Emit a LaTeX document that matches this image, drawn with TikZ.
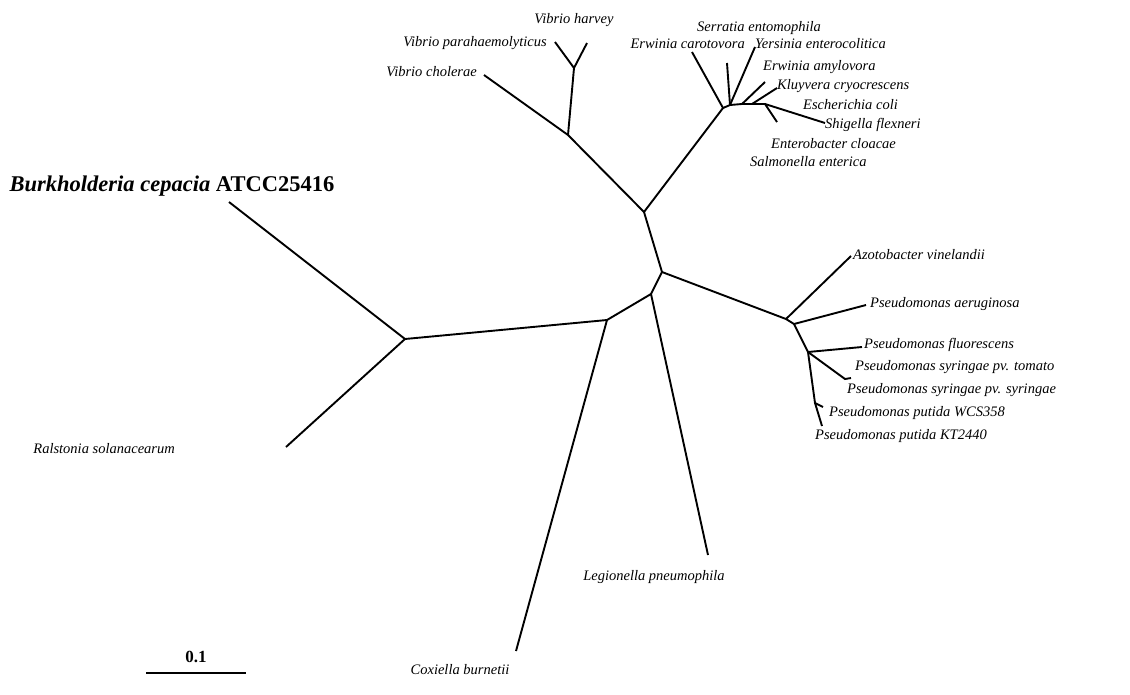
\documentclass[tikz,border=0pt]{standalone}
\usepackage{fontspec}
\setmainfont{Liberation Serif}

\begin{document}
\begin{tikzpicture}[x=1pt,y=-1pt,
  branch/.style={black, line width=1.9pt},
  taxon/.style={font=\fontsize{14.5}{16}\selectfont\itshape, inner sep=0pt}]
\useasboundingbox (0,0) rectangle (1130,694);

% inner nodes
\coordinate (nR) at (405,339);
\coordinate (nD) at (607,320);
\coordinate (nC) at (651,294);
\coordinate (nB) at (662,272);
\coordinate (nA) at (644,212);
\coordinate (nV) at (568,135);
\coordinate (nVf) at (574,68);
\coordinate (nE) at (723,108);
\coordinate (nE2) at (730,105);
\coordinate (nE4) at (742,104);
\coordinate (nE5) at (752,104);
\coordinate (nE6) at (765,104);
\coordinate (nP) at (786,319);
\coordinate (nP2) at (794,324);
\coordinate (nP3) at (808,352);
\coordinate (nP4) at (815,403);
\coordinate (nPs) at (845,379);

% tips
\coordinate (tBurk) at (229,202);
\coordinate (tRal) at (286,447);
\coordinate (tCox) at (516,651);
\coordinate (tLeg) at (708,555);
\coordinate (tVch) at (484,75);
\coordinate (tVpa) at (555,42);
\coordinate (tVha) at (587,43);
\coordinate (tEca) at (692,52);
\coordinate (tSer) at (727,63);
\coordinate (tYer) at (755,47);
\coordinate (tEam) at (765,82);
\coordinate (tKlu) at (777,88);
\coordinate (tShi) at (825,123);
\coordinate (tEco) at (777,122);
\coordinate (tAzo) at (851,256);
\coordinate (tPae) at (866,305);
\coordinate (tPfl) at (862,347);
\coordinate (tPst) at (851,378);
\coordinate (tPwc) at (823,407);
\coordinate (tPpu) at (822,426);

% branches
\draw[branch] (tBurk) -- (nR) -- (tRal);
\draw[branch] (nR) -- (nD) -- (tCox);
\draw[branch] (nD) -- (nC) -- (tLeg);
\draw[branch] (nC) -- (nB) -- (nA);
\draw[branch] (nA) -- (nV) -- (tVch);
\draw[branch] (nV) -- (nVf);
\draw[branch] (tVpa) -- (nVf) -- (tVha);
\draw[branch] (nA) -- (nE) -- (tEca);
\draw[branch] (nE) -- (nE2) -- (nE4) -- (nE5) -- (nE6) -- (tShi);
\draw[branch] (nE2) -- (tSer);
\draw[branch] (nE2) -- (tYer);
\draw[branch] (nE4) -- (tEam);
\draw[branch] (nE5) -- (tKlu);
\draw[branch] (nE6) -- (tEco);
\draw[branch] (nB) -- (nP) -- (tAzo);
\draw[branch] (nP) -- (nP2) -- (tPae);
\draw[branch] (nP2) -- (nP3) -- (tPfl);
\draw[branch] (nP3) -- (nPs) -- (tPst);
\draw[branch] (nP3) -- (nP4) -- (tPpu);
\draw[branch] (nP4) -- (tPwc);

% labels
\node[taxon] (burk) at (172,186) {\fontsize{22.5}{24}\selectfont\bfseries Burkholderia cepacia \upshape ATCC25416};
\node[taxon, anchor=east] (ral) at (175,449) {Ralstonia solanacearum};
\node[taxon] (cox) at (460,670) {Coxiella burnetii};
\node[taxon] (leg) at (654,577) {Legionella pneumophila};
\node[taxon, anchor=east] (vch) at (477,72) {Vibrio cholerae};
\node[taxon, anchor=east] (vpa) at (547,43) {Vibrio parahaemolyticus};
\node[taxon] (vha) at (574,20) {Vibrio harvey};
\node[taxon] (ser) at (759,28) {Serratia entomophila};
\node[taxon, anchor=east] (eca) at (745,44) {Erwinia carotovora};
\node[taxon, anchor=west] (yer) at (755,44) {Yersinia enterocolitica};
\node[taxon, anchor=west] (eam) at (763,67) {Erwinia amylovora};
\node[taxon, anchor=west] (klu) at (777,86) {Kluyvera cryocrescens};
\node[taxon, anchor=west] (eco) at (803,105) {Escherichia coli};
\node[taxon, anchor=west] (shi) at (825,125) {Shigella flexneri};
\node[taxon, anchor=west] (ent) at (771,144) {Enterobacter cloacae};
\node[taxon, anchor=west] (sal) at (750,162) {Salmonella enterica};
\node[taxon, anchor=west] (azo) at (853,255) {Azotobacter vinelandii};
\node[taxon, anchor=west] (pae) at (870,304) {Pseudomonas aeruginosa};
\node[taxon, anchor=west] (pfl) at (864,345) {Pseudomonas fluorescens};
\node[taxon, anchor=west] (pst) at (855,367) {Pseudomonas syringae pv. tomato};
\node[taxon, anchor=west] (pss) at (847,390) {Pseudomonas syringae pv. syringae};
\node[taxon, anchor=west] (pwc) at (829,413) {Pseudomonas putida WCS358};
\node[taxon, anchor=west] (pkt) at (815,436) {Pseudomonas putida KT2440};

% scale bar
\node[font=\fontsize{17}{19}\selectfont\bfseries] (scale) at (196,657) {0.1};
\coordinate (sbL) at (146,673);
\coordinate (sbR) at (246,673);
\draw[branch] (sbL) -- (sbR);

\end{tikzpicture}
\end{document}
